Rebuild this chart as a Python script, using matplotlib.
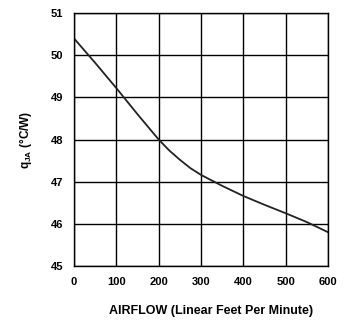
import numpy as np
import matplotlib
matplotlib.use("Agg")
import matplotlib.pyplot as plt

# thermal resistance vs airflow
airflow = [0, 50, 100, 150, 200, 225, 250, 275, 300, 350, 400, 450, 500, 550, 600]
theta_ja = [50.4, 49.82, 49.22, 48.6, 48.0, 47.74, 47.52, 47.32, 47.16, 46.9, 46.66, 46.45, 46.25, 46.04, 45.8]

x_ticks = [0, 100, 200, 300, 400, 500, 600]
y_ticks = [45, 46, 47, 48, 49, 50, 51]

plt.rcParams['font.family'] = ['Liberation Sans', 'DejaVu Sans']
plt.rcParams['mathtext.fontset'] = 'custom'
plt.rcParams['mathtext.rm'] = 'Liberation Sans:bold'
plt.rcParams['mathtext.it'] = 'Liberation Sans:bold'
plt.rcParams['mathtext.bf'] = 'Liberation Sans:bold'

fig = plt.figure(figsize=(3.49, 3.2), dpi=100)
ax = fig.add_axes([0.212, 0.169, 0.728, 0.790])

ax.plot(airflow, theta_ja, color='#222222', lw=1.3)

ax.set_xlim(0, 600)
ax.set_ylim(45, 51)
ax.set_xticks(x_ticks)
ax.set_yticks(y_ticks)
ax.grid(True, color='black', lw=1.0)
for s in ax.spines.values():
    s.set_linewidth(1.0)
    s.set_color('black')

ax.tick_params(length=0, labelsize=8)
ax.tick_params(axis='x', pad=8)
ax.tick_params(axis='y', pad=8)
for lbl in ax.get_xticklabels() + ax.get_yticklabels():
    lbl.set_fontweight('bold')

ax.set_xlabel('AIRFLOW (Linear Feet Per Minute)', fontsize=9, fontweight='bold')
ax.xaxis.set_label_coords(0.54, -0.155)
ax.set_ylabel('q$_{JA}$ (°C/W)', fontsize=8.5, fontweight='bold', labelpad=12)

fig.savefig('out.png', dpi=100)
